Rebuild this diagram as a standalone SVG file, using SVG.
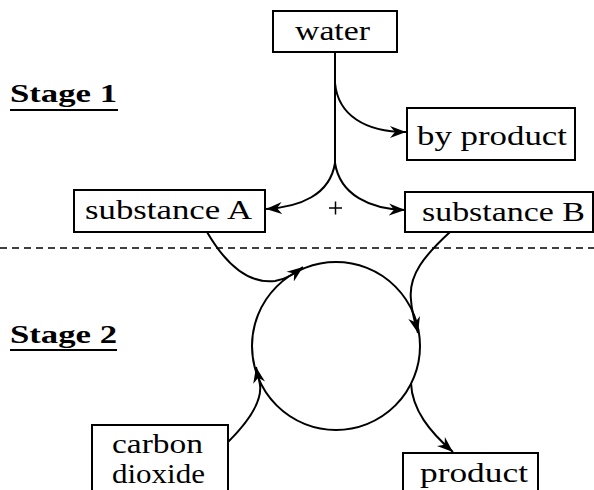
<svg xmlns="http://www.w3.org/2000/svg" width="594" height="490" viewBox="0 0 594 490">
<style>
.box{fill:#fff;stroke:#000;stroke-width:2}
.ln{fill:none;stroke:#000;stroke-width:2}
</style>
<defs>
<marker id="ah" markerWidth="18" markerHeight="14" refX="16" refY="7" markerUnits="userSpaceOnUse" orient="auto">
<path d="M0,1 L16,7 L0,13 L5,7 Z" fill="#000"/>
</marker>
</defs>
<rect width="594" height="490" fill="#fff"/>

<g font-family="Liberation Serif, DejaVu Serif, serif" font-weight="bold" font-size="25" fill="#000">
<g id="stage1">
<text x="10" y="102" textLength="107" lengthAdjust="spacingAndGlyphs">Stage 1</text>
<line x1="10" y1="110" x2="118" y2="110" stroke="#000" stroke-width="2"/>
</g>
<g id="stage2">
<text x="10" y="343" textLength="107" lengthAdjust="spacingAndGlyphs">Stage 2</text>
<line x1="10" y1="350" x2="117" y2="350" stroke="#000" stroke-width="2"/>
</g>
</g>

<line id="divider" x1="0" y1="248" x2="594" y2="248" stroke="#000" stroke-width="1.5" stroke-dasharray="7 5"/>

<g id="connectors" fill="none" stroke="#000" stroke-width="2">
<path d="M335,52 L335,163"/>
<path marker-end="url(#ah)" d="M335,83 C338,115 365,132 406,132"/>
<path marker-end="url(#ah)" d="M335,163 C330,195 300,207 266,209"/>
<path marker-end="url(#ah)" d="M335,163 C340,195 370,209 405,210"/>
<path marker-end="url(#ah)" d="M207,232 C228,268 250,284 275,281 C287,279 295,273 303,267"/>
<path marker-end="url(#ah)" d="M450,232 C425,255 408,275 411,300 C412,315 416,325 418,333"/>
<path marker-end="url(#ah)" d="M228,442 C250,420 262,400 260,385 C259,378 257,372 256,367"/>
<path marker-end="url(#ah)" d="M411,383 C412,410 430,432 453,452"/>
</g>

<g id="cycle">
<circle cx="336" cy="346" r="84" class="ln"/>
</g>

<g id="plus">
<line x1="329" y1="208" x2="342" y2="208" stroke="#000" stroke-width="1.5"/>
<line x1="335.5" y1="201.5" x2="335.5" y2="214.5" stroke="#000" stroke-width="1.5"/>
</g>

<g font-family="Liberation Serif, DejaVu Serif, serif" font-size="27" fill="#000">
<g id="water">
<rect class="box" x="273" y="11" width="124" height="41"/>
<text x="295" y="40" textLength="75" lengthAdjust="spacingAndGlyphs">water</text>
</g>
<g id="byproduct">
<rect class="box" x="407" y="108" width="168" height="52"/>
<text x="417" y="145" textLength="150" lengthAdjust="spacingAndGlyphs">by product</text>
</g>
<g id="substanceA">
<rect class="box" x="74" y="190" width="191" height="42"/>
<text x="85" y="219" textLength="167" lengthAdjust="spacingAndGlyphs">substance A</text>
</g>
<g id="substanceB">
<rect class="box" x="405" y="192" width="188" height="40"/>
<text x="422" y="221" textLength="163" lengthAdjust="spacingAndGlyphs">substance B</text>
</g>
<g id="carbondioxide">
<rect class="box" x="92" y="425" width="136" height="80"/>
<text x="112" y="453" textLength="91" lengthAdjust="spacingAndGlyphs">carbon</text>
<text x="112" y="483" textLength="93" lengthAdjust="spacingAndGlyphs">dioxide</text>
</g>
<g id="product">
<rect class="box" x="403" y="453" width="135" height="60"/>
<text x="420" y="482" textLength="108" lengthAdjust="spacingAndGlyphs">product</text>
</g>
</g>
</svg>
